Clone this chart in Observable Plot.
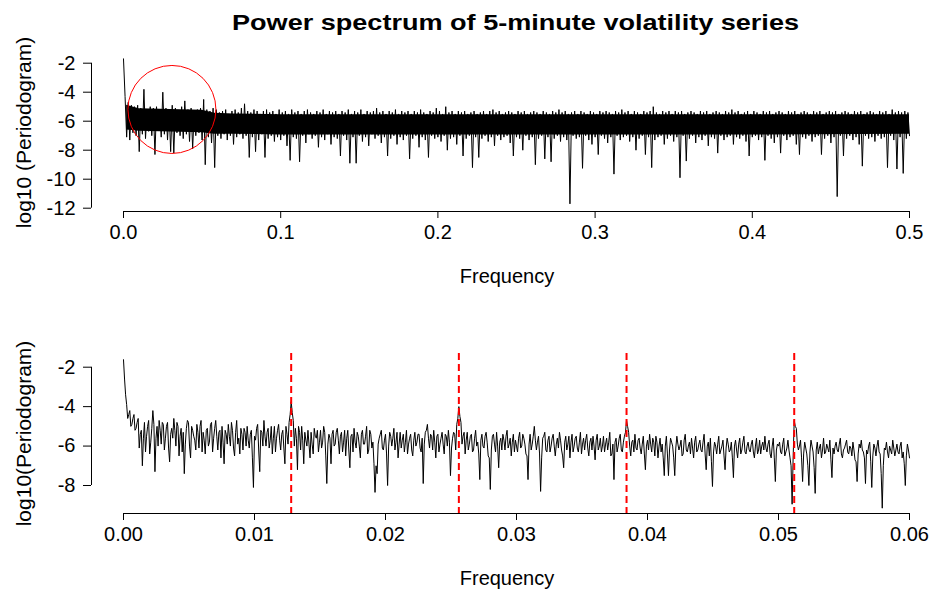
<!DOCTYPE html>
<html><head><meta charset="utf-8">
<script src="https://cdn.jsdelivr.net/npm/d3@7"></script>
<script src="https://cdn.jsdelivr.net/npm/@observablehq/plot@0.6"></script>
<style>
html,body{margin:0;padding:0;background:#fff;}
#root{position:relative;width:930px;height:592px;overflow:hidden;background:#fff;}
#root > svg{position:absolute;left:0;}
</style></head><body><div id="root"></div>
<script>
const titleText = "Power spectrum of 5-minute volatility series";
const xTitle = "Frequency";
const topYTitle = "log10 (Periodogram)";
const bottomYTitle = "log10(Periodogram)";

// full-range periodogram (log10), frequency step 0.001 from 0 to 0.5 (column highs/lows)
const topStep = 0.001;
const topValues = [
-1.7,-4.3,-7.1,-4.7,-7.3,-4.9,-6.8,-5.0,-7.0,-4.9,-8.1,-5.1,-6.9,-3.8,-7.2,-5.2,-6.7,-5.0,-7.0,-5.1,
-8.3,-5.0,-6.6,-5.2,-7.1,-4.0,-6.9,-5.1,-7.3,-5.2,-8.1,-4.9,-8.2,-5.1,-6.8,-5.3,-7.0,-5.0,-7.2,-4.6,
-6.9,-5.2,-7.4,-5.1,-7.9,-5.3,-7.0,-5.2,-6.8,-5.1,-7.3,-4.5,-9.0,-5.2,-7.1,-5.3,-7.5,-5.1,-9.2,-5.2,
-7.0,-5.4,-7.2,-5.3,-6.9,-5.2,-7.3,-5.5,-7.0,-5.3,-7.6,-5.2,-7.1,-5.4,-6.9,-5.1,-7.2,-4.8,-7.0,-5.3,
-8.5,-5.4,-7.1,-5.2,-8.1,-5.3,-7.3,-5.5,-6.9,-5.3,-8.5,-5.2,-7.2,-5.4,-7.0,-5.3,-7.4,-5.5,-7.1,-5.2,
-7.3,-5.4,-7.0,-5.3,-7.7,-5.5,-8.7,-5.2,-7.1,-5.4,-7.2,-5.3,-8.8,-5.5,-7.0,-5.3,-7.5,-5.2,-6.9,-5.4,
-7.2,-5.5,-7.0,-5.3,-7.8,-5.4,-7.1,-5.2,-7.3,-5.5,-6.9,-5.3,-7.6,-5.4,-7.1,-5.3,-7.2,-5.5,-8.4,-5.3,
-7.0,-5.4,-7.3,-5.2,-8.9,-5.5,-7.1,-5.3,-8.9,-5.4,-7.0,-5.2,-7.4,-5.5,-7.1,-5.3,-7.7,-5.4,-6.9,-5.3,
-7.2,-5.1,-7.0,-5.4,-7.5,-5.3,-7.1,-5.5,-8.4,-5.3,-7.2,-5.4,-7.0,-5.2,-7.6,-5.5,-7.1,-5.3,-7.3,-5.4,
-7.0,-5.3,-8.6,-5.5,-7.2,-5.3,-7.0,-5.4,-7.8,-5.2,-7.1,-5.4,-7.3,-5.5,-8.5,-5.3,-7.0,-5.4,-7.2,-5.1,
-7.1,-5.3,-7.4,-5.5,-7.0,-5.0,-8.0,-5.4,-7.2,-5.3,-7.1,-5.5,-7.6,-5.3,-7.0,-5.4,-8.4,-5.3,-7.2,-5.5,
-7.0,-5.4,-9.2,-5.3,-7.1,-5.5,-8.5,-5.4,-7.2,-5.3,-7.0,-5.5,-7.4,-5.3,-7.1,-5.2,-7.7,-5.4,-7.0,-5.3,
-7.3,-5.5,-7.1,-5.4,-7.0,-5.3,-7.5,-5.4,-8.4,-5.5,-7.1,-5.3,-7.2,-5.4,-8.0,-5.3,-7.0,-5.5,-7.3,-5.4,
-7.1,-5.3,-9.0,-5.4,-7.2,-5.5,-7.0,-5.3,-8.6,-5.4,-7.1,-5.5,-8.8,-5.3,-7.2,-5.4,-7.0,-5.2,-7.4,-5.4,
-7.1,-5.3,-7.3,-5.5,-11.7,-5.4,-7.0,-5.3,-7.2,-5.5,-7.1,-5.3,-9.25,-5.4,-7.0,-5.5,-7.3,-5.3,-7.6,-5.4,
-7.1,-5.5,-8.3,-5.3,-7.0,-5.4,-7.2,-5.3,-7.5,-5.4,-7.1,-5.5,-9.65,-5.3,-7.0,-5.4,-7.3,-5.2,-7.1,-5.4,
-7.0,-5.3,-7.4,-5.5,-7.1,-5.3,-8.0,-5.4,-7.2,-5.5,-7.0,-5.3,-8.3,-5.4,-7.1,-5.3,-9.2,-5.0,-7.3,-5.4,
-7.1,-5.5,-7.0,-5.3,-7.6,-5.4,-7.2,-5.3,-7.0,-5.5,-7.4,-5.3,-7.1,-5.4,-9.9,-5.3,-7.0,-5.5,-8.75,-5.4,
-7.2,-5.3,-7.0,-5.4,-7.5,-5.5,-7.1,-5.3,-7.3,-5.4,-7.0,-5.3,-7.7,-5.5,-7.1,-5.4,-7.2,-5.3,-8.2,-5.4,
-7.0,-5.5,-7.3,-5.3,-7.1,-5.4,-7.0,-5.2,-7.6,-5.4,-7.1,-5.3,-7.2,-5.5,-7.0,-5.4,-7.4,-5.3,-8.4,-5.5,
-7.1,-5.3,-7.0,-5.4,-7.3,-5.5,-7.1,-5.3,-8.7,-5.4,-7.0,-5.3,-7.2,-5.5,-7.5,-5.4,-7.1,-5.3,-8.2,-5.4,
-7.0,-5.5,-7.3,-5.3,-7.1,-5.4,-7.0,-5.3,-7.6,-5.5,-8.3,-5.4,-7.1,-5.3,-7.2,-5.4,-7.0,-5.5,-7.4,-5.3,
-7.1,-5.4,-7.0,-5.3,-8.3,-5.5,-7.2,-5.4,-7.0,-5.3,-7.5,-5.4,-7.1,-5.3,-11.2,-5.5,-7.0,-5.4,-8.4,-5.3,
-7.2,-5.4,-7.0,-5.5,-7.3,-5.3,-7.1,-5.4,-7.6,-5.3,-9.1,-5.5,-7.0,-5.4,-7.2,-5.3,-7.1,-5.4,-7.4,-5.5,
-7.0,-5.3,-7.2,-5.4,-7.1,-5.3,-9.2,-5.5,-7.0,-5.2,-7.3,-5.4,-9.3,-5.3,-7.1,-5.4,-9.6,-5.3,-7.2,-5.4,
-7.0
];
// solid core of the dense band (frequency, upper and lower edge)
const coreFreq = [0.002, 0.01, 0.03, 0.05, 0.058, 0.07, 0.1, 0.2, 0.3, 0.4, 0.5];
const coreHigh = [-4.9, -5.15, -5.2, -5.25, -5.45, -5.5, -5.55, -5.55, -5.55, -5.55, -5.55];
const coreLow = [-6.6, -6.7, -6.75, -6.8, -6.9, -6.9, -6.95, -6.95, -6.95, -6.95, -6.9];

// low-frequency zoom (log10), frequency step 0.00016 from 0 to 0.06
const bottomStep = 0.00016;
const bottomValues = [
-1.62,-3.4,-4.6,-4.2,-4.9,-4.4,-5.1,-4.6,-5.4,-7.0,-4.8,-5.5,-4.7,-5.8,-4.2,-7.3,-5.0,-4.7,-5.9,-4.9,
-5.6,-4.8,-6.8,-5.1,-4.6,-6.0,-5.0,-5.5,-6.3,-7.4,-5.1,-4.8,-6.6,-5.2,-5.7,-4.9,-6.1,-4.7,-5.3,-6.4,
-5.1,-5.8,-4.8,-5.6,-4.7,-6.2,-5.2,-5.0,-6.9,-5.4,-4.9,-6.0,-5.2,-6.5,-4.7,-5.6,-5.1,-6.2,-5.3,-5.0,
-6.1,-5.2,-8.1,-5.7,-4.9,-7.3,-5.3,-4.7,-6.0,-5.1,-5.7,-6.4,-5.0,-5.6,-4.9,-6.2,-5.2,-6.9,-5.4,-4.8,
-3.75,-4.7,-5.1,-7.2,-5.3,-5.0,-6.9,-5.7,-5.2,-6.6,-5.9,-5.1,-5.6,-6.3,-5.2,-5.8,-5.3,-7.9,-5.4,-6.9,
-5.2,-5.9,-5.1,-6.4,-5.3,-5.8,-6.5,-5.2,-7.1,-5.4,-5.1,-6.1,-5.5,-6.6,-5.2,-5.9,-5.0,-6.2,-5.4,-5.8,
-8.35,-7.4,-5.6,-5.2,-6.2,-5.4,-8.0,-5.3,-6.0,-5.1,-5.8,-6.6,-5.3,-5.7,-6.3,-5.2,-5.9,-5.4,-6.5,-5.3,
-5.8,-5.4,-6.3,-7.9,-5.3,-4.9,-6.1,-5.5,-5.2,-6.6,-5.4,-5.9,-5.3,-6.4,-5.5,-5.2,-7.5,-5.6,-5.4,-4.9,
-4.0,-4.8,-5.5,-6.4,-5.3,-5.9,-5.4,-6.2,-5.2,-5.8,-7.7,-5.4,-6.1,-5.3,-6.5,-8.2,-5.5,-5.9,-5.3,-7.1,
-5.6,-5.4,-6.2,-5.2,-5.9,-6.5,-5.4,-5.7,-6.3,-5.3,-6.0,-5.6,-6.4,-7.7,-5.4,-5.9,-5.0,-6.2,-5.5,-8.3,
-5.6,-5.3,-6.3,-5.5,-6.0,-5.4,-6.5,-5.6,-5.3,-6.2,-7.1,-5.5,-5.9,-6.6,-5.4,-6.0,-5.5,-6.3,-5.3,-5.9,
-6.2,-5.4,-6.5,-5.6,-5.5,-6.7,-5.4,-6.0,-6.3,-5.5,-5.9,-6.2,-5.3,-6.4,-7.7,-5.6,-6.0,-5.4,-6.3,-5.5,
-4.7,-5.3,-6.5,-5.7,-5.4,-6.2,-5.6,-6.4,-5.5,-7.2,-5.7,-5.4,-6.3,-5.8,-5.5,-6.6,-5.6,-5.9,-7.5,-5.5,
-7.5,-5.6,-6.0,-7.5,-5.5,-6.2,-5.7,-6.4,-5.4,-6.3,-5.8,-5.6,-6.6,-5.5,-6.2,-5.7,-6.3,-5.4,-7.2,-5.8,
-5.6,-8.05,-5.8,-6.4,-5.5,-6.2,-5.7,-7.2,-5.6,-6.3,-5.8,-7.6,-5.7,-6.6,-5.6,-6.2,-5.5,-6.4,-5.8,-6.3,
-5.7,-6.6,-5.6,-6.2,-6.4,-5.8,-5.5,-6.3,-5.7,-6.6,-5.6,-7.8,-5.9,-5.8,-6.4,-5.6,-6.3,-5.7,-6.6,-8.95,
-4.7,-5.1,-6.2,-5.7,-7.8,-5.8,-6.4,-8.0,-5.7,-6.3,-8.4,-5.8,-6.1,-6.6,-5.6,-6.3,-6.1,-5.7,-7.6,-6.4,
-5.8,-6.3,-5.6,-6.6,-6.1,-5.7,-6.4,-6.1,-5.8,-6.7,-7.8,-5.9,-5.7,-6.3,-7.9,-6.4,-5.8,-8.1,-5.9,-6.5,
-5.7,-6.4,-9.15,-6.1,-5.8,-6.6,-6.2,-5.7,-6.5,-5.9,-6.4,-5.8,-6.3,-8.0,-5.9,-6.6
];
// readings half-way between the frequencies above
const bottomMidValues = [
-2.6,-3.9,-4.4,-5.0,-4.6,-5.2,-4.8,-6.1,-5.2,-5.6,-6.3,-5.0,-6.4,-5.1,-4.9,-5.6,-6.0,-5.2,-4.8,-6.2,
-5.0,-6.1,-5.4,-5.6,-5.2,-4.8,-6.5,-5.1,-5.3,-5.9,-4.7,-6.0,-5.0,-5.5,-6.2,-5.3,-5.0,-6.3,-5.7,-5.2,
-6.0,-4.9,-6.3,-5.1,-5.5,-5.3,-6.6,-5.8,-5.2,-5.9,-5.5,-4.8,-6.1,-5.3,-5.9,-6.4,-5.4,-5.1,-6.0,-5.7,
-5.4,-6.6,-5.5,-5.1,-6.2,-5.2,-6.0,-5.5,-5.3,-6.1,-5.0,-5.6,-6.3,-5.2,-5.7,-5.4,-6.1,-5.0,-5.9,-4.4,
-4.3,-6.0,-5.6,-5.0,-6.2,-5.7,-5.3,-6.0,-5.9,-5.3,-6.4,-5.5,-5.2,-5.8,-6.1,-5.0,-6.5,-5.9,-5.6,-5.4,
-6.0,-5.3,-5.7,-5.5,-6.3,-5.2,-5.6,-6.2,-5.5,-6.3,-5.8,-5.3,-6.0,-5.4,-5.9,-5.5,-6.4,-5.2,-6.1,-6.9,
-7.0,-5.9,-5.4,-6.1,-5.7,-6.4,-6.0,-5.5,-5.6,-6.2,-5.3,-5.9,-6.1,-5.4,-5.8,-6.4,-5.6,-6.2,-5.7,-6.0,
-5.4,-6.1,-5.6,-5.9,-5.2,-5.6,-5.4,-6.2,-5.8,-5.5,-6.3,-5.6,-5.9,-5.4,-6.0,-5.8,-6.1,-5.3,-6.2,-4.6,
-4.5,-5.9,-5.3,-5.7,-6.2,-5.5,-6.3,-5.6,-6.0,-6.4,-5.7,-6.0,-5.5,-5.8,-6.6,-6.2,-5.4,-6.3,-6.0,-5.8,
-6.2,-5.7,-5.5,-6.1,-5.6,-5.8,-6.3,-6.0,-5.6,-6.1,-5.4,-5.9,-6.5,-5.9,-6.2,-5.5,-5.7,-5.8,-6.4,-6.6,
-5.5,-6.2,-5.7,-6.3,-5.6,-6.0,-5.9,-6.1,-5.7,-6.5,-5.8,-6.2,-5.5,-5.8,-6.3,-5.6,-6.1,-5.8,-6.4,-5.6,
-5.7,-6.1,-5.8,-6.2,-6.0,-5.7,-6.2,-5.6,-6.0,-6.3,-5.6,-5.8,-6.5,-5.9,-5.8,-6.3,-5.6,-6.2,-5.8,-5.3,
-5.0,-6.0,-5.8,-6.3,-6.1,-5.7,-6.1,-5.9,-6.4,-6.0,-6.2,-5.9,-5.6,-6.5,-5.8,-6.0,-6.3,-6.6,-6.0,-6.4,
-6.2,-5.8,-6.6,-6.1,-5.9,-6.0,-6.5,-5.7,-6.2,-6.0,-6.4,-6.1,-5.8,-6.3,-5.9,-6.2,-5.8,-6.4,-6.0,-6.5,
-6.8,-6.3,-6.0,-5.9,-6.4,-6.0,-6.5,-6.1,-5.9,-6.2,-6.6,-6.0,-6.2,-5.9,-6.4,-5.8,-6.3,-6.0,-6.2,-5.9,
-6.3,-6.0,-6.4,-5.7,-6.0,-6.2,-6.1,-5.9,-6.4,-6.0,-6.6,-6.2,-6.0,-6.3,-5.9,-6.5,-6.1,-6.2,-7.0,-6.5,
-5.0,-5.9,-6.0,-6.6,-6.4,-6.1,-7.0,-6.3,-6.0,-7.1,-6.2,-6.4,-5.9,-6.2,-6.4,-5.9,-6.3,-6.7,-6.1,-6.0,
-6.2,-5.9,-6.4,-6.2,-5.9,-6.3,-6.0,-6.5,-6.2,-6.8,-6.4,-6.1,-6.2,-6.6,-6.2,-6.0,-6.8,-6.5,-6.1,-6.0,
-6.3,-7.4,-7.0,-6.2,-6.3,-6.0,-6.4,-6.1,-6.2,-6.3,-6.0,-6.6,-6.9,-6.5,-6.2
];

const dailyHarmonics = [0.0128, 0.0256, 0.0384, 0.0512];
const highlightCenter = [{f: 0.0308, v: -5.19}];

const topXTicks = [0, 0.1, 0.2, 0.3, 0.4, 0.5];
const topXLabels = ["0.0", "0.1", "0.2", "0.3", "0.4", "0.5"];
const topYTicks = [-2, -4, -6, -8, -10, -12];
const bottomXTicks = [0, 0.01, 0.02, 0.03, 0.04, 0.05, 0.06];
const bottomXLabels = ["0.00", "0.01", "0.02", "0.03", "0.04", "0.05", "0.06"];
const bottomYTicks = [-2, -4, -6, -8];

const FONT = '"Liberation Sans", Arial, Helvetica, sans-serif';
const topData = topValues.map((v, i) => ({f: i * topStep, v}));
const coreData = coreFreq.map((f, i) => ({f, hi: coreHigh[i], lo: coreLow[i]}));
const bottomData = [];
bottomValues.forEach((v, i) => {
  bottomData.push({f: i * bottomStep, v});
  if (i < bottomMidValues.length) bottomData.push({f: (i + 0.5) * bottomStep, v: bottomMidValues[i]});
});

const root = document.getElementById("root");

// title
const tsvg = d3.create("svg").attr("width", 930).attr("height", 45).style("top", "0px");
tsvg.append("text").attr("x", 515.5).attr("y", 29.5).attr("text-anchor", "middle")
  .attr("font-family", FONT).attr("font-weight", "bold").attr("font-size", 22)
  .attr("textLength", 567).attr("lengthAdjust", "spacingAndGlyphs").text(titleText);
root.appendChild(tsvg.node());

function panel({data, xDomain, yDomain, xTicks, xLabels, yTicks, yTitle, under, extra, height, marginBottom, top}) {
  const p = Plot.plot({
    width: 930, height,
    marginTop: 53, marginBottom, marginLeft: 91, marginRight: 8,
    x: {domain: xDomain},
    y: {domain: yDomain},
    style: {fontFamily: FONT, fontSize: "20px", color: "black", background: "transparent", overflow: "visible"},
    marks: [
      ...under,
      Plot.line(data, {x: "f", y: "v", stroke: "black", strokeWidth: 1}),
      ...extra,
      Plot.ruleY([yDomain[0]], {x1: xTicks[0], x2: xTicks[xTicks.length - 1], stroke: "black"}),
      Plot.ruleX([xDomain[0]], {y1: d3.min(yTicks), y2: d3.max(yTicks), stroke: "black"}),
      Plot.axisX(xTicks, {tickSize: 7, tickPadding: 6, tickFormat: d => xLabels[xTicks.indexOf(d)], label: null}),
      Plot.axisY(yTicks, {tickSize: 8, tickPadding: 8, tickFormat: d => String(d), label: null}),
      Plot.text([xTitle], {text: d => d, frameAnchor: "bottom", dy: 71, textAnchor: "middle", lineAnchor: "bottom", fontSize: 20}),
      Plot.text([yTitle], {text: d => d, frameAnchor: "left", dx: -61, rotate: -90, textAnchor: "middle", lineAnchor: "bottom", fontSize: 21})
    ]
  });
  p.style.top = top + "px";
  p.style.position = "absolute";
  root.appendChild(p);
}

// pixel anchors: 0 -> x=123, last tick -> x=909; frame spans x 91..922
function xDom(maxTick) {
  const k = (909 - 123) / maxTick;
  return [(91 - 123) / k, (922 - 123) / k];
}

panel({
  data: topData,
  xDomain: xDom(0.5),
  yDomain: [-12.228, -1.331],
  xTicks: topXTicks, xLabels: topXLabels, yTicks: topYTicks, yTitle: topYTitle,
  under: [Plot.areaY(coreData, {x: "f", y1: "lo", y2: "hi", fill: "black"})],
  extra: [Plot.dot(highlightCenter, {x: "f", y: "v", r: 44, stroke: "red", fill: "none", strokeWidth: 1})],
  height: 300, marginBottom: 89, top: 0
});

panel({
  data: bottomData,
  xDomain: xDom(0.06),
  yDomain: [-9.42, -1.305],
  xTicks: bottomXTicks, xLabels: bottomXLabels, yTicks: bottomYTicks, yTitle: bottomYTitle,
  under: [],
  extra: [Plot.ruleX(dailyHarmonics, {stroke: "red", strokeWidth: 2, strokeDasharray: "7,4"})],
  height: 292, marginBottom: 79, top: 300
});
</script></body></html>
